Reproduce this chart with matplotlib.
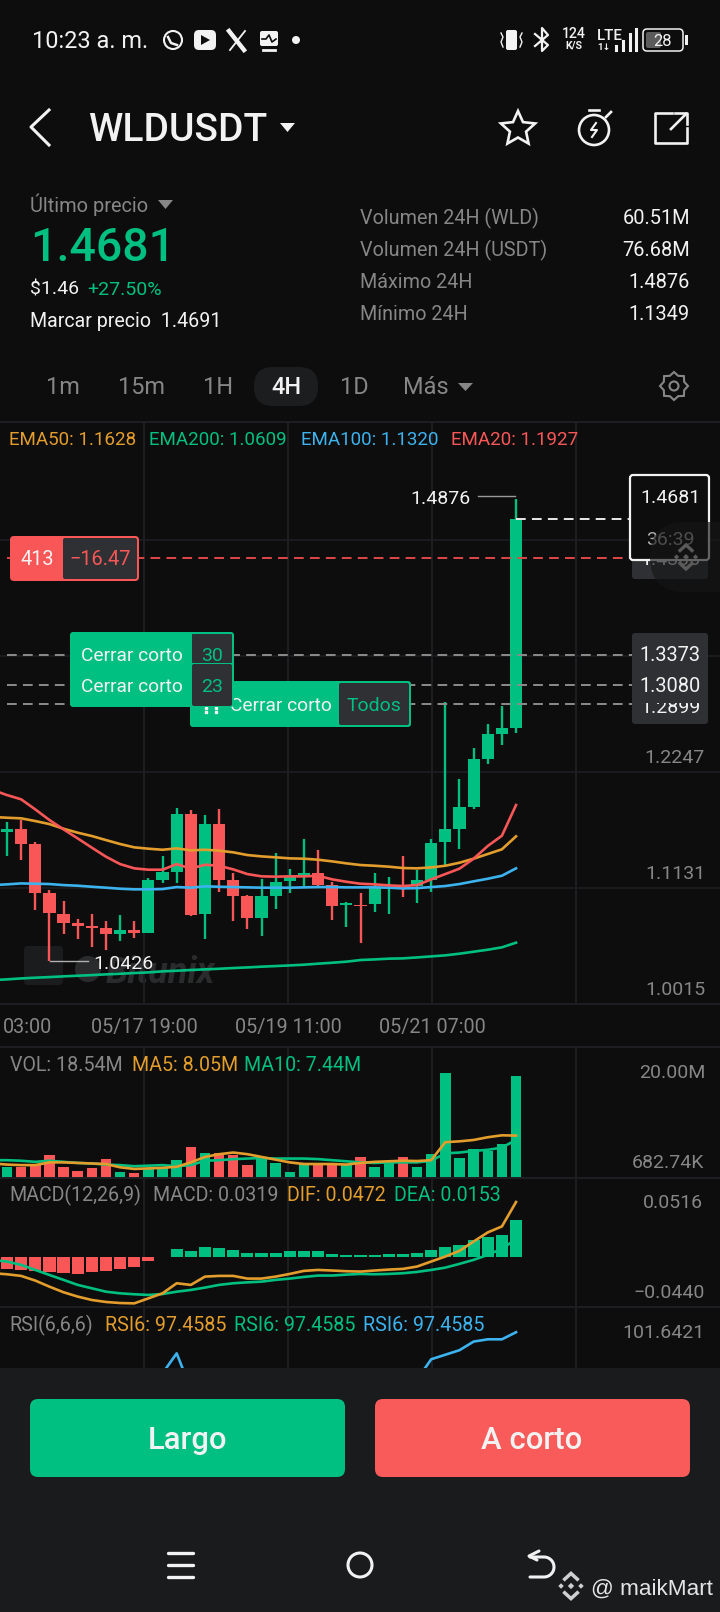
import numpy as np
import matplotlib
matplotlib.use('Agg')
import matplotlib.pyplot as plt
from matplotlib.patches import FancyBboxPatch, Polygon, Circle, Rectangle

plt.rcParams['font.family'] = ['Roboto', 'DejaVu Sans']

# candles
opens = [1.1672,1.1695,1.1551,1.1086,1.0884,1.0791,1.0765,1.0742,1.0688,1.0726,1.0701,1.1207,1.1288,1.1842,1.0880,1.1746,1.1207,1.1054,1.0839,1.1057,1.1201,1.1256,1.1278,1.1159,1.0964,1.0967,1.0977,1.1127,1.1150,1.1150,1.1207,1.1570,1.1701,1.1913,1.2368,1.2609,1.2667]
highs = [1.1769,1.1785,1.1576,1.1111,1.1005,1.0829,1.0877,1.0810,1.0874,1.0816,1.1224,1.1438,1.1897,1.1881,1.1833,1.1887,1.1272,1.1063,1.1214,1.1464,1.1313,1.1599,1.1496,1.1185,1.0993,1.1079,1.1272,1.1233,1.1442,1.1304,1.1602,1.2920,1.2176,1.2474,1.2705,1.2882,1.4876]
lows = [1.1438,1.1400,1.0919,1.0426,1.0685,1.0637,1.0566,1.0534,1.0621,1.0646,1.0694,1.1182,1.1182,1.0861,1.0640,1.1095,1.0813,1.0739,1.0672,1.0928,1.1086,1.1150,1.1150,1.0823,1.0752,1.0598,1.0896,1.0877,1.1041,1.0983,1.1095,1.1352,1.1509,1.1894,1.2324,1.2503,1.2619]
closes = [1.1695,1.1554,1.1086,1.0887,1.0791,1.0768,1.0749,1.0688,1.0726,1.0701,1.1207,1.1288,1.1842,1.0871,1.1746,1.1207,1.1054,1.0839,1.1054,1.1191,1.1233,1.1278,1.1159,1.0961,1.0983,1.0961,1.1143,1.1137,1.1130,1.1207,1.1567,1.1695,1.1910,1.2368,1.2609,1.2667,1.4681]

# moving averages, first value sits one candle left of the screen
ema20 = [1.2073,1.2025,1.1984,1.1887,1.1785,1.1695,1.1608,1.1519,1.1432,1.1361,1.1320,1.1307,1.1307,1.1361,1.1317,1.1355,1.1345,1.1310,1.1265,1.1243,1.1240,1.1243,1.1243,1.1249,1.1214,1.1191,1.1172,1.1166,1.1156,1.1150,1.1159,1.1214,1.1265,1.1317,1.1413,1.1535,1.1634,1.1929]
ema50 = [1.1814,1.1807,1.1801,1.1775,1.1746,1.1701,1.1663,1.1631,1.1592,1.1554,1.1522,1.1509,1.1499,1.1512,1.1493,1.1499,1.1490,1.1474,1.1448,1.1435,1.1426,1.1416,1.1413,1.1403,1.1387,1.1368,1.1352,1.1345,1.1336,1.1323,1.1320,1.1329,1.1345,1.1374,1.1413,1.1458,1.1503,1.1628]
ema100 = [1.1159,1.1166,1.1175,1.1172,1.1169,1.1159,1.1153,1.1143,1.1134,1.1124,1.1118,1.1118,1.1121,1.1140,1.1134,1.1147,1.1143,1.1140,1.1137,1.1134,1.1134,1.1134,1.1137,1.1140,1.1140,1.1137,1.1137,1.1137,1.1134,1.1127,1.1130,1.1140,1.1150,1.1169,1.1195,1.1220,1.1249,1.1320]
ema200 = [1.0245,1.0252,1.0261,1.0268,1.0274,1.0281,1.0287,1.0293,1.0300,1.0306,1.0313,1.0319,1.0329,1.0335,1.0342,1.0348,1.0354,1.0361,1.0367,1.0374,1.0380,1.0386,1.0393,1.0403,1.0412,1.0422,1.0438,1.0444,1.0451,1.0454,1.0463,1.0473,1.0483,1.0499,1.0518,1.0537,1.0560,1.0605]

price_ticks = [1.0015,1.1131,1.2247,1.3363,1.4479,1.5595]
order_red = 1.4306
order_gray = [1.3373,1.3080,1.2899]
last_price = 1.4681

# volume in millions
volume = [2.0,2.0,2.3,4.1,2.0,1.3,1.8,3.4,1.0,0.85,1.7,1.7,3.2,5.7,4.6,4.6,4.1,2.3,3.5,2.6,1.0,2.6,2.6,2.7,2.5,3.8,2.0,2.6,3.7,2.0,4.3,19.15,3.6,5.2,4.8,6.1,18.54]
vol_ma5 = [2.6,2.4,2.3,2.3,2.8,2.8,2.7,2.6,2.5,1.9,1.6,1.7,1.8,2.0,2.8,3.8,4.3,4.6,4.3,3.8,3.3,2.8,2.5,2.5,2.5,2.4,2.7,2.9,3.0,3.1,3.05,3.2,6.5,6.65,6.9,7.4,7.75,7.7]
vol_ma10 = [3.2,3.2,3.1,2.9,3.1,2.9,2.7,2.6,2.4,2.3,2.1,2.2,2.3,2.1,2.3,3.1,3.2,3.4,3.5,3.6,3.5,3.5,3.5,3.4,3.2,3.0,2.8,2.7,2.8,2.8,2.8,3.1,4.45,4.6,4.9,5.1,5.5,6.9]

# macd
macd_hist = [-.0103,-.0109,-.0114,-.0129,-.0137,-.0140,-.0129,-.0117,-.0103,-.0080,-.0031,.0003,.0072,.0049,.0089,.0080,.0060,.0034,.0034,.0040,.0049,.0051,.0049,.0031,.0023,.0020,.0020,.0029,.0029,.0034,.0060,.0083,.0103,.0146,.0177,.0192,.0317]
dif = [-.0137,-.0146,-.0160,-.0200,-.0252,-.0300,-.0337,-.0366,-.0383,-.0392,-.0395,-.0352,-.0309,-.0223,-.0237,-.0166,-.0160,-.0160,-.0183,-.0183,-.0166,-.0143,-.0117,-.0109,-.0114,-.0120,-.0123,-.0114,-.0106,-.0100,-.0080,-.0037,.0006,.0054,.0134,.0212,.0263,.0472]
dea = [-.0023,-.0037,-.0066,-.0109,-.0152,-.0194,-.0237,-.0266,-.0295,-.0309,-.0317,-.0323,-.0315,-.0295,-.0280,-.0260,-.0237,-.0223,-.0215,-.0209,-.0194,-.0183,-.0169,-.0157,-.0157,-.0149,-.0143,-.0146,-.0143,-.0137,-.0126,-.0109,-.0089,-.0057,-.0023,.0020,.0072,.0154]

# rsi, only the part above the bottom bar can be read
nan = float('nan')
rsi = [nan]*11 + [88.4,92.8,84.9] + [nan]*15 + [87.0,91.5,92.5,93.5,95.4,95.9,95.9,97.46]

x_labels = ['03:00','05/17 19:00','05/19 11:00','05/21 07:00']

BG = '#0d0d0d'
BAND = '#1a1b1d'
GRID = '#1d1f22'
GREEN = '#00c081'
RED = '#f95757'
ORANGE = '#e39d2c'
BLUE = '#3cb3ee'
GRAY = '#868686'
CELL = '#2f3033'
WHITE = '#f2f2f2'

W, H = 720, 1612
fig = plt.figure(figsize=(7.2, 16.12), dpi=100, facecolor=BG)


def pixel_axes(z):
    a = fig.add_axes([0, 0, 1, 1], zorder=z)
    a.set_xlim(0, W)
    a.set_ylim(H, 0)
    a.axis('off')
    return a


def panel(top, bottom, y0, y1):
    a = fig.add_axes([0, 1 - bottom / H, 1, (bottom - top) / H], zorder=2)
    a.patch.set_visible(False)
    a.set_xlim(-7 / 14.14, 713 / 14.14)
    a.set_ylim(y0, y1)
    a.set_xticks([])
    a.set_yticks([])
    for s in a.spines.values():
        s.set_visible(False)
    for s in ['top', 'bottom']:
        a.spines[s].set_visible(True)
        a.spines[s].set_color(GRID)
        a.spines[s].set_linewidth(1.4)
    for f in [0.2, 0.4, 0.6, 0.8]:
        a.plot([f, f], [0, 1], transform=a.transAxes, color=GRID, lw=1.4, zorder=0)
    return a


under = pixel_axes(1)
ui = pixel_axes(5)
top_ui = pixel_axes(6)


def text(a, x, y, s, size, color=WHITE, ha='left', weight='normal', z=10, family=None, style='normal'):
    # y is the middle of the capitals, size is in pixels
    kw = {}
    if family:
        kw['family'] = family
    a.text(x, y + 0.355 * size, s, fontsize=size * 0.72, color=color, ha=ha, va='baseline',
           weight=weight, zorder=z, style=style, **kw)


def box(a, x0, y0, x1, y1, color, r=4, edge=None, lw=0, z=5, alpha=None):
    a.add_patch(FancyBboxPatch((x0, y0), x1 - x0, y1 - y0, boxstyle='round,pad=0,rounding_size=%s' % r,
                               fc=color, ec=edge if edge else 'none', lw=lw, zorder=z, alpha=alpha))


def diamond(a, cx, cy, s, color, z=12):
    a.add_patch(Polygon([[cx - s, cy], [cx, cy - s], [cx + s, cy], [cx, cy + s]], fc=color, ec='none', zorder=z))


def binance(a, cx, cy, k, color, z=12):
    diamond(a, cx, cy, 3 * k, color, z)
    diamond(a, cx - 9.5 * k, cy, 2.6 * k, color, z)
    diamond(a, cx + 9.5 * k, cy, 2.6 * k, color, z)
    lw = 2.4 * k
    a.plot([cx - 6 * k, cx, cx + 6 * k], [cy - 6.5 * k, cy - 12 * k, cy - 6.5 * k], color=color, lw=lw, zorder=z, solid_joinstyle='miter')
    a.plot([cx - 6 * k, cx, cx + 6 * k], [cy + 6.5 * k, cy + 12 * k, cy + 6.5 * k], color=color, lw=lw, zorder=z, solid_joinstyle='miter')


# things behind the candles
box(under, 24, 946, 63, 985, '#1b1c1e', r=4)
under.plot([31, 39], [979, 971], color='#8f8f8f', lw=1.6)
under.plot([31, 31, 38], [971, 979, 979], color='#8f8f8f', lw=1.6)
under.plot([48, 55], [962, 955], color='#c8c8c8', lw=1.6)
under.plot([47, 55, 55], [955, 955, 963], color='#c8c8c8', lw=1.6)
text(under, 106, 970, 'Bitunix', 36, '#2a2b2c', weight='bold', style='italic')
under.add_patch(Circle((88, 969), 13, fc='#2a2b2c', ec='none'))

# main chart
ax = panel(422, 1004, 1.0015, 1.5614)
x = np.arange(len(opens))
xl = np.arange(-1, len(opens))
colors = [GREEN if c >= o else RED for o, c in zip(opens, closes)]
for p in price_ticks[1:-1]:
    ax.axhline(p, color=GRID, lw=1.2, zorder=0)
ax.vlines(x, lows, highs, colors=colors, lw=1.7, zorder=2)
ax.bar(x, np.array(closes) - np.array(opens), bottom=opens, width=0.86, color=colors, zorder=3)
ax.plot(xl, ema200, color=GREEN, lw=1.9, zorder=4)
ax.plot(xl, ema100, color=BLUE, lw=1.9, zorder=4)
ax.plot(xl, ema50, color=ORANGE, lw=1.9, zorder=4)
ax.plot(xl, ema20, color=RED, lw=1.9, zorder=4)

yt = ax.get_yaxis_transform()
ax.plot([7 / W, 632 / W], [order_red] * 2, transform=yt, color='#e04848', lw=1.4, ls=(0, (5, 3.2)), zorder=5)
for p in order_gray:
    ax.plot([7 / W, 632 / W], [p, p], transform=yt, color='#8c8c8c', lw=1.4, ls=(0, (5, 3.2)), zorder=5)
ax.plot([516 / W, 632 / W], [last_price] * 2, transform=yt, color='#e8e8e8', lw=1.4, ls=(0, (5, 3.2)), zorder=5)


def py(p):
    # price to pixel row of the main chart
    return 1004 - (p - 1.0015) / 0.000962


# price labels on the right
for p in price_ticks[:-1]:
    text(ui, 705, py(p) - 16, '%.4f' % p, 19.5, GRAY, ha='right', z=2)

# legends of main chart
text(ui, 9, 438, 'EMA50: 1.1628', 18.8, ORANGE)
text(ui, 149, 438, 'EMA200: 1.0609', 18.8, GREEN)
text(ui, 301, 438, 'EMA100: 1.1320', 18.8, BLUE)
text(ui, 451, 438, 'EMA20: 1.1927', 18.8, RED)

# max and min labels
text(ui, 471, 497, '1.4876', 19.5, WHITE, ha='right')
ui.plot([478, 515], [496, 496], color='#9a9a9a', lw=1)
text(ui, 93, 962, '1.0426', 19.5, WHITE)
ui.plot([50, 88], [961, 961], color='#b0b0b0', lw=1)

# x labels
for s, cx in zip(x_labels, [28, 144, 288, 432]):
    text(ui, cx, 1026, s, 19.8, GRAY, ha='center')

# right side price boxes
box(ui, 632, 545, 708, 579, CELL, r=3, z=3)
text(ui, 670, 558, '%.4f' % order_red, 19.5, WHITE, ha='center', z=4)
box(ui, 632, 633, 708, 724, CELL, r=3, z=3)
text(ui, 670, 706, '%.4f' % order_gray[2], 19.5, WHITE, ha='center', z=4)
box(ui, 632, 668, 708, 703, CELL, r=0, z=5)
text(ui, 670, 654, '%.4f' % order_gray[0], 20, WHITE, ha='center', z=6)
text(ui, 670, 685, '%.4f' % order_gray[1], 20, WHITE, ha='center', z=6)
box(ui, 630, 475, 709, 560, BG, r=3, edge='#f2f2f2', lw=1.6, z=7)
text(ui, 670, 496, '%.4f' % last_price, 19.5, WHITE, ha='center', z=8)
text(ui, 670, 538, '36:39', 19.5, '#b0b0b0', ha='center', z=8)
box(top_ui, 650, 522, 770, 592, '#161616', r=35, z=2, alpha=0.65)
binance(top_ui, 686, 557, 1.0, '#5a5a5a', z=3)

# position tag
box(ui, 10, 536, 139, 581, RED, r=4, z=6)
box(ui, 63, 538, 137, 579, CELL, r=2, z=7)
text(ui, 37, 558, '413', 20, WHITE, ha='center', z=8)
text(ui, 100, 558, '\u221216.47', 20, RED, ha='center', z=8)

# close short tags
box(ui, 190, 681, 411, 727, GREEN, r=3, z=6)
box(ui, 339, 683, 409, 725, CELL, r=2, z=7)
text(ui, 230, 704, 'Cerrar corto', 19.2, WHITE, z=8)
text(ui, 374, 704, 'Todos', 19.5, GREEN, ha='center', z=8)
ui.plot([206, 206, 216, 216], [708, 712, 708, 712], ls='none', marker='s', ms=1.6, color=WHITE, zorder=8)
box(ui, 70, 632, 234, 707, GREEN, r=3, z=9)
box(ui, 192, 634, 232, 663, CELL, r=1, z=10)
box(ui, 192, 664, 232, 706, CELL, r=2, z=10)
text(ui, 81, 654, 'Cerrar corto', 19.2, WHITE, z=11)
text(ui, 81, 685, 'Cerrar corto', 19.2, WHITE, z=11)
text(ui, 212, 654, '30', 19.5, GREEN, ha='center', z=11)
text(ui, 212, 685, '23', 19.5, GREEN, ha='center', z=11)

# volume panel
vax = panel(1047, 1177.7, 0, 23.9)
vax.bar(x, volume, width=0.74, color=colors, zorder=2)
vax.plot(xl, vol_ma10, color=GREEN, lw=1.9, zorder=3)
vax.plot(xl, vol_ma5, color=ORANGE, lw=1.9, zorder=3)
text(ui, 9.5, 1064, 'VOL: 18.54M', 19.6, GRAY)
text(ui, 132, 1064, 'MA5: 8.05M', 19.6, ORANGE)
text(ui, 244, 1064, 'MA10: 7.44M', 19.6, GREEN)
text(ui, 705, 1071, '20.00M', 19.5, GRAY, ha='right')
text(ui, 704, 1161, '682.74K', 19.5, GRAY, ha='right')

# macd panel
max_ = panel(1177.7, 1307, -0.0426, 0.0680)
max_.bar(x, macd_hist, width=0.86, color=[GREEN if v >= 0 else RED for v in macd_hist], zorder=2)
max_.plot(xl, dea, color=GREEN, lw=1.9, zorder=3)
max_.plot(xl, dif, color=ORANGE, lw=1.9, zorder=3)
text(ui, 9.5, 1194, 'MACD(12,26,9)', 19.6, GRAY)
text(ui, 153, 1194, 'MACD: 0.0319', 19.6, GRAY)
text(ui, 287, 1194, 'DIF: 0.0472', 19.6, ORANGE)
text(ui, 394, 1194, 'DEA: 0.0153', 19.6, GREEN)
text(ui, 703, 1201, '0.0516', 19.5, GRAY, ha='right')
text(ui, 705, 1291, '\u22120.0440', 19.5, GRAY, ha='right')

# rsi panel
rax = panel(1307, 1368, 89.57, 103.03)
rax.spines['bottom'].set_visible(False)
rax.plot(x, rsi, color=BLUE, lw=1.9, zorder=3)
text(ui, 9.5, 1324, 'RSI(6,6,6)', 19.6, GRAY)
text(ui, 105, 1324, 'RSI6: 97.4585', 19.6, ORANGE)
text(ui, 234, 1324, 'RSI6: 97.4585', 19.6, GREEN)
text(ui, 363, 1324, 'RSI6: 97.4585', 19.6, BLUE)
text(ui, 705, 1331, '101.6421', 19.5, GRAY, ha='right')

# bottom bar
ui.add_patch(Rectangle((0, 1368), W, H - 1368, fc=BAND, ec='none', zorder=1))
box(ui, 30, 1399, 345, 1477, GREEN, r=8, z=3)
box(ui, 375, 1399, 690, 1477, '#f95b5b', r=8, z=3)
text(ui, 188, 1438, 'Largo', 31, WHITE, ha='center', weight='medium')
text(ui, 532, 1438, 'A corto', 31, WHITE, ha='center', weight='medium')
for yy in [1553, 1565, 1577]:
    ui.plot([168, 193], [yy, yy], color=WHITE, lw=2.4, solid_capstyle='round')
ui.add_patch(Circle((360, 1565), 12, fc='none', ec=WHITE, lw=2.2))
t = np.linspace(-np.pi / 2, np.pi / 2, 30)
ui.plot(np.r_[530, 544 + 10 * np.cos(t), 530], np.r_[1557, 1567 + 10 * np.sin(t), 1577], color=WHITE, lw=2.2, solid_capstyle='round')
ui.plot([539, 529, 537], [1551, 1556, 1560], color=WHITE, lw=2.2, solid_capstyle='round')
binance(ui, 571, 1586, 1.05, '#d0d0d0')
text(ui, 591, 1587, '@ maikMart', 22.5, '#e4e4e4', family=['Liberation Sans', 'DejaVu Sans'])

# status bar
text(ui, 32, 40, '10:23 a. m.', 23.5, WHITE)
ui.add_patch(Circle((173, 40), 9, fc='none', ec=WHITE, lw=1.5))
ui.plot([168, 171, 177], [37, 43, 45], color=WHITE, lw=1.8)
box(ui, 194, 30, 216, 50, WHITE, r=5)
ui.add_patch(Polygon([[201, 35], [201, 45], [210, 40]], fc=BG, ec='none', zorder=6))
ui.plot([229, 244], [31, 50], color=WHITE, lw=3.2)
ui.plot([245, 230], [31, 50], color=WHITE, lw=1.3)
box(ui, 260, 31, 278, 46, WHITE, r=2)
ui.plot([262, 266, 269, 272, 276], [39, 39, 35, 42, 39], color=BG, lw=1.2, zorder=6)
ui.plot([263, 275], [50, 50], color=WHITE, lw=2)
ui.add_patch(Circle((296, 40), 4, fc=WHITE, ec='none'))
box(ui, 506, 30, 517, 50, WHITE, r=2)
for xx, sign in [(501, 1), (522, -1)]:
    ui.plot([xx, xx + 2 * sign, xx, xx + 2 * sign], [33, 37, 42, 47], color=WHITE, lw=1)
ui.plot([535, 548, 542, 542, 548, 535], [34, 45, 51, 28, 35, 46], color=WHITE, lw=1.6)
text(ui, 574, 33, '124', 14, WHITE, ha='center', weight='medium')
text(ui, 574, 45, 'K/S', 10.5, WHITE, ha='center', weight='bold')
text(ui, 610, 35, 'LTE', 15, WHITE, ha='center', weight='medium')
text(ui, 604, 47, '1\u2193', 9.5, WHITE, ha='center', weight='bold')
for xx, y0 in [(616, 46), (623, 41), (630, 34), (635.5, 29)]:
    ui.plot([xx, xx], [y0, 50], color=WHITE, lw=2.2)
box(ui, 643, 29, 683, 51, BG, r=4, edge=WHITE, lw=1.1)
box(ui, 646, 32, 661, 48, '#5c5c5c', r=2, z=6)
text(ui, 662, 40, '28', 16.5, WHITE, ha='center', z=7)
ui.add_patch(Rectangle((685, 35), 2.5, 10, fc=WHITE, ec='none'))

# title row
ui.plot([49, 31, 49], [110, 127, 145], color=WHITE, lw=2.2)
text(ui, 88, 127, 'WLDUSDT', 39, WHITE, weight='medium')
ui.add_patch(Polygon([[280, 123], [295, 123], [287.5, 132]], fc=WHITE, ec='none'))
ang = -np.pi / 2 + np.arange(10) * np.pi / 5
rad = np.where(np.arange(10) % 2 == 0, 18, 8.5)
ui.add_patch(Polygon(np.c_[518 + rad * np.cos(ang), 129 + rad * np.sin(ang)], fc='none', ec=WHITE, lw=1.9))
ui.add_patch(Circle((594, 130), 15, fc='none', ec=WHITE, lw=1.9))
ui.plot([589, 599], [110, 110], color=WHITE, lw=1.9)
ui.plot([606, 611], [117, 112], color=WHITE, lw=1.9)
ui.plot([596, 591, 597, 592], [123, 130, 130, 137], color=WHITE, lw=1.5)
ui.plot([672, 655, 655, 687, 687], [113, 113, 143, 143, 128], color=WHITE, lw=1.9)
ui.plot([671, 686], [129, 114], color=WHITE, lw=1.9)
ui.plot([675, 687, 687], [113, 113, 124], color=WHITE, lw=1.9)

# price block
text(ui, 30, 205, 'Último precio', 20, GRAY)
ui.add_patch(Polygon([[158, 200], [173, 200], [165.5, 209]], fc=GRAY, ec='none'))
text(ui, 30, 244, '1.4681', 46.5, GREEN, weight='medium')
text(ui, 30, 288, '$1.46', 19.5, WHITE)
text(ui, 87, 288, '+27.50%', 19.5, GREEN)
text(ui, 30, 320, 'Marcar precio  1.4691', 19.6, WHITE)
rows = [('Volumen 24H (WLD)', '60.51M'), ('Volumen 24H (USDT)', '76.68M'), ('Máximo 24H', '1.4876'), ('Mínimo 24H', '1.1349')]
for (lab, val), yy in zip(rows, [217, 249, 281, 313]):
    text(ui, 360, yy, lab, 19.8, GRAY)
    text(ui, 690, yy, val, 20, WHITE, ha='right')

# interval tabs
for s, cx in [('1m', 63), ('15m', 141), ('1H', 218), ('1D', 354), ('Más', 426)]:
    text(ui, cx, 386, s, 23.5, GRAY, ha='center')
box(ui, 254, 367, 318, 406, '#1c1d1f', r=19)
text(ui, 286, 386, '4H', 23.5, WHITE, ha='center', weight='medium')
ui.add_patch(Polygon([[458, 383], [473, 383], [465.5, 391]], fc=GRAY, ec='none'))
ang = np.arange(16) * np.pi / 8
rad = np.where(np.arange(16) % 2 == 0, 14, 11)
ui.add_patch(Polygon(np.c_[674 + rad * np.cos(ang), 386 + rad * np.sin(ang)], fc='none', ec=GRAY, lw=1.5))
ui.add_patch(Circle((674, 386), 4.5, fc='none', ec=GRAY, lw=1.5))

fig.savefig('out.png', dpi=100, facecolor=BG)
